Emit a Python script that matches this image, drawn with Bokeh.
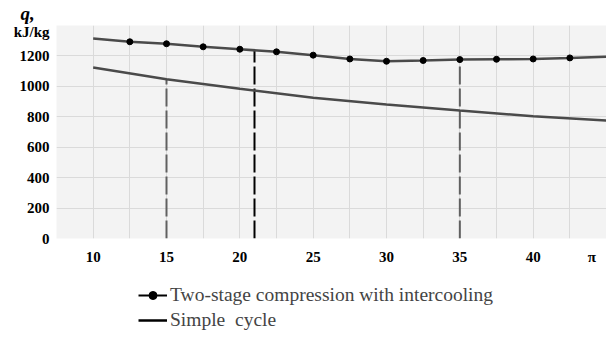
from bokeh.plotting import figure
from bokeh.layouts import column
from bokeh.models import (Range1d, FixedTicker, Legend, LegendItem)
from bokeh.embed import file_html
from bokeh.resources import INLINE

# Data
pi_line = [10, 12.5, 15, 17.5, 20, 22.5, 25, 27.5, 30, 32.5, 35, 37.5, 40, 42.5, 45]
q_two_stage = [1315, 1293, 1280, 1260, 1244, 1227, 1205, 1180, 1165, 1170, 1176, 1178, 1180, 1187, 1195]
pi_markers = [12.5, 15, 17.5, 20, 22.5, 25, 27.5, 30, 32.5, 35, 37.5, 40, 42.5]
q_markers = [1293, 1280, 1260, 1244, 1227, 1205, 1180, 1165, 1170, 1176, 1178, 1180, 1187]
pi_simple = [10, 15, 20, 25, 30, 35, 40, 45]
q_simple = [1124, 1046, 985, 925, 880, 841, 804, 775]
x_ticks = [10, 15, 20, 25, 30, 35, 40, 44]
x_tick_labels = {10: "10", 15: "15", 20: "20", 25: "25", 30: "30", 35: "35", 40: "40", 44: "π"}
y_ticks = [0, 200, 400, 600, 800, 1000, 1200, 1360]
y_tick_labels = {1360: "kJ/kg"}
vlines_x = [15, 21, 35]
vlines_top = [1046, 1240, 1176]
vlines_color = ["#606060", "#000000", "#606060"]
legend_labels = ["Two-stage compression with intercooling", "Simple  cycle"]
y_title = "q,"

SERIF = "Liberation Serif"

p = figure(frame_width=550, frame_height=213, output_backend="svg", toolbar_location=None,
           x_range=Range1d(7.5, 45), y_range=Range1d(0, 1400),
           min_border_left=56, min_border_right=0, min_border_top=25, min_border_bottom=28)
p.outline_line_color = None
p.background_fill_color = "#f3f3f3"
p.border_fill_color = "white"

p.title.text = y_title
p.title.align = "left"
p.title.offset = -36
p.title.standoff = 0
p.title.vertical_align = "top"
p.title.text_font = SERIF
p.title.text_font_size = "19px"
p.title.text_font_style = "bold italic"
p.title.text_color = "black"

p.xaxis.ticker = FixedTicker(ticks=x_ticks)
p.xaxis.major_label_overrides = x_tick_labels
p.yaxis.ticker = FixedTicker(ticks=y_ticks)
p.yaxis.major_label_overrides = y_tick_labels
for ax in (p.xaxis, p.yaxis):
    ax.axis_line_color = None
    ax.major_tick_line_color = None
    ax.minor_tick_line_color = None
    ax.major_tick_in = 0
    ax.major_tick_out = 0
    ax.major_label_text_font = SERIF
    ax.major_label_text_font_size = "15px"
    ax.major_label_text_font_style = "bold"
    ax.major_label_text_color = "black"
p.yaxis.major_label_standoff = 7
p.xaxis.major_label_standoff = 10

p.xgrid.ticker = FixedTicker(ticks=[7.5 + 2.5 * i for i in range(16)])
p.ygrid.ticker = FixedTicker(ticks=[0, 200, 400, 600, 800, 1000, 1200, 1400])
p.xgrid.grid_line_color = "#dadada"
p.ygrid.grid_line_color = "#dadada"

# vertical dashed lines
for xv, top, col in zip(vlines_x, vlines_top, vlines_color):
    p.line([xv, xv], [0, top], line_color=col, line_width=2, line_dash="18 4")

p.line(pi_line, q_two_stage, line_color="#4a4a4a", line_width=2.5)
p.scatter(pi_markers, q_markers, size=6, color="black")
p.line(pi_simple, q_simple, line_color="#4a4a4a", line_width=2.5)

# legend figure (series drawn outside its visible range, only legend shows)
lf = figure(width=606, height=85, output_backend="svg", toolbar_location=None,
            x_range=Range1d(-2, -1), y_range=Range1d(-2, -1),
            min_border_left=0, min_border_right=0, min_border_top=0, min_border_bottom=0)
lf.axis.visible = False
lf.grid.visible = False
lf.outline_line_color = None
l1 = lf.line(pi_line, q_two_stage, line_color="black", line_width=2)
m1 = lf.scatter(pi_markers, q_markers, size=6, color="black")
l2 = lf.line(pi_simple, q_simple, line_color="black", line_width=2.5)

legend = Legend(items=[LegendItem(label=legend_labels[0], renderers=[l1, m1]),
                       LegendItem(label=legend_labels[1], renderers=[l2])],
                location=(82, 21), orientation="vertical",
                background_fill_alpha=0, border_line_color=None,
                label_text_font=SERIF, label_text_font_size="19.5px",
                glyph_width=29, glyph_height=20, label_height=20,
                spacing=3, padding=0, margin=0, label_standoff=3)
lf.add_layout(legend, "center")

open("out.html", "w").write(file_html(column(p, lf, spacing=0), INLINE))
